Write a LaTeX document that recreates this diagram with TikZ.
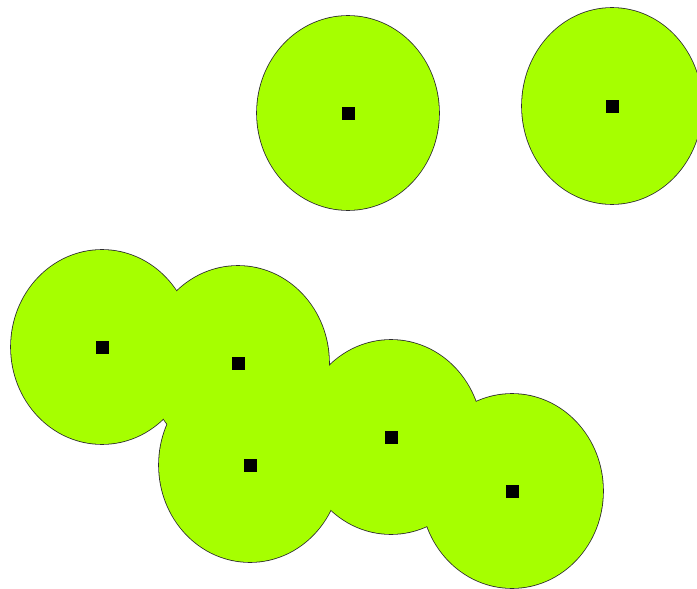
\documentclass[tikz,border=0pt]{standalone}
\usepackage{xcolor}
\usepackage{tikz}
\begin{document}
\begin{tikzpicture}[x=1pt,y=-1pt]
  \definecolor{bgreen}{RGB}{166,255,0}
  \definecolor{bedge}{RGB}{45,45,45}
  \useasboundingbox (0,0) rectangle (697,589);
  % outlines first, wide, so the fill leaves only the outer rim
  \draw[bedge,line width=1.6pt] (348,113) ellipse (91 and 97);
  \draw[bedge,line width=1.6pt] (612,106) ellipse (90 and 98);
  \draw[bedge,line width=1.6pt] (102,347) ellipse (91 and 97);
  \draw[bedge,line width=1.6pt] (238,363) ellipse (91 and 97);
  \draw[bedge,line width=1.6pt] (250,465) ellipse (91 and 97);
  \draw[bedge,line width=1.6pt] (391,437) ellipse (91 and 97);
  \draw[bedge,line width=1.6pt] (512,491) ellipse (91 and 97);
  \fill[bgreen] (348,113) ellipse (91 and 97);
  \fill[bgreen] (612,106) ellipse (90 and 98);
  \fill[bgreen] (102,347) ellipse (91 and 97);
  \fill[bgreen] (238,363) ellipse (91 and 97);
  \fill[bgreen] (250,465) ellipse (91 and 97);
  \fill[bgreen] (391,437) ellipse (91 and 97);
  \fill[bgreen] (512,491) ellipse (91 and 97);
  % the points
  \node[fill=black,inner sep=0pt,minimum size=13pt] (pa) at (348,113) {};
  \node[fill=black,inner sep=0pt,minimum size=13pt] (pb) at (612,106) {};
  \node[fill=black,inner sep=0pt,minimum size=13pt] (pc) at (102,347) {};
  \node[fill=black,inner sep=0pt,minimum size=13pt] (pd) at (238,363) {};
  \node[fill=black,inner sep=0pt,minimum size=13pt] (pe) at (250,465) {};
  \node[fill=black,inner sep=0pt,minimum size=13pt] (pf) at (391,437) {};
  \node[fill=black,inner sep=0pt,minimum size=13pt] (pg) at (512,491) {};
\end{tikzpicture}
\end{document}
